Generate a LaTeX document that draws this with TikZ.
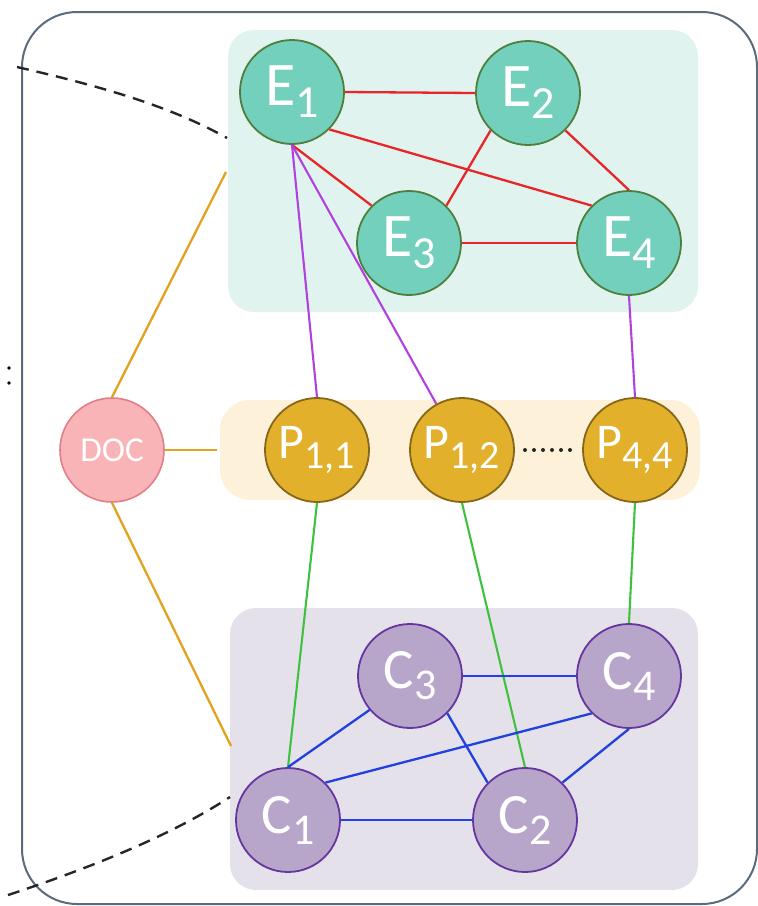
\documentclass[tikz,border=0pt]{standalone}
\usepackage{fontspec}
\setmainfont{Carlito}
\newcommand{\circlab}[5]{{\fontsize{#3}{#3}\selectfont #1}\raisebox{-#5}{\fontsize{#4}{#4}\selectfont #2}}
\definecolor{framecol}{HTML}{5B6B7E}
\definecolor{efill}{HTML}{72D0BC}
\definecolor{edraw}{HTML}{4F7F3C}
\definecolor{ebox}{HTML}{E0F3EE}
\definecolor{pfill}{HTML}{E2B02A}
\definecolor{pdraw}{HTML}{86671A}
\definecolor{pbox}{HTML}{FDF2D9}
\definecolor{cfill}{HTML}{B8A5CA}
\definecolor{cdraw}{HTML}{6536A0}
\definecolor{cbox}{HTML}{E5E1EA}
\definecolor{docfill}{HTML}{F8B4B7}
\definecolor{docdraw}{HTML}{E27E88}
\definecolor{redl}{HTML}{E8262A}
\definecolor{purl}{HTML}{B040E0}
\definecolor{grnl}{HTML}{3EC23E}
\definecolor{blul}{HTML}{2040E0}
\definecolor{orgl}{HTML}{E2A21E}
\begin{document}
\begin{tikzpicture}[x=1pt,y=-1pt,
  vert/.style={circle,minimum size=104pt,inner sep=0pt,line width=1.8pt,text=white},
  enode/.style={vert,fill=efill,draw=edraw},
  pnode/.style={vert,fill=pfill,draw=pdraw},
  cnode/.style={vert,fill=cfill,draw=cdraw},
  docnode/.style={vert,fill=docfill,draw=docdraw,line width=1.6pt},
  region/.style={rounded corners=26pt,draw=none},
  eedge/.style={redl,line width=2.3pt},
  pedge/.style={purl,line width=2.1pt},
  gedge/.style={grnl,line width=2.1pt},
  cedge/.style={blul,line width=2.3pt},
  oedge/.style={orgl,line width=2.3pt},
  arcline/.style={black!85,line width=2.4pt,dash pattern=on 12pt off 8pt}]
\useasboundingbox (0,0) rectangle (758,906);
% outer frame
\draw[framecol,line width=2pt,rounded corners=55pt] (22,12) rectangle (757,904);
% background regions
\fill[region,ebox] (228,30) rectangle (698,312);
\fill[region,pbox,rounded corners=30pt] (220,400) rectangle (700,500);
\fill[region,cbox] (230,608) rectangle (698,890);
% dashed arcs on the left
\draw[arcline] (17,67) .. controls (100,86) and (170,106) .. (227,138);
\draw[arcline] (8,895) .. controls (90,868) and (170,836) .. (230,797);
\fill[black] (9,368) circle (1.8pt) (9,383) circle (1.8pt);
% nodes
\node[enode] (E1) at (292,92) {\circlab{E}{1}{62}{46}{12pt}};
\node[enode] (E2) at (528,93) {\circlab{E}{2}{62}{46}{12pt}};
\node[enode] (E3) at (409,243) {\circlab{E}{3}{62}{46}{12pt}};
\node[enode] (E4) at (629,243) {\circlab{E}{4}{62}{46}{12pt}};
\node[pnode] (P11) at (317,450) {\circlab{P}{1,1}{50}{40}{10pt}};
\node[pnode] (P12) at (462,450) {\circlab{P}{1,2}{50}{40}{10pt}};
\node[pnode] (P44) at (635,450) {\circlab{P}{4,4}{50}{40}{10pt}};
\node[cnode] (C1) at (288,820) {\circlab{C}{1}{57}{44}{11pt}};
\node[cnode] (C2) at (525,820) {\circlab{C}{2}{57}{44}{11pt}};
\node[cnode] (C3) at (410,676) {\circlab{C}{3}{57}{44}{11pt}};
\node[cnode] (C4) at (629,676) {\circlab{C}{4}{57}{44}{11pt}};
\node[docnode] (DOC) at (112,450) {\fontsize{35}{35}\selectfont DOC};
\foreach \k in {0,...,5} \fill[black!85] (525+\k*9,450) circle (2pt);
% anchors on the region borders
\coordinate (eL) at (226,172);
\coordinate (pL) at (217,450);
\coordinate (cL) at (231,746);
% entity graph
\draw[eedge] (E1.east) -- (E2.west);
\draw[eedge] (E1.-45) -- (E4.135);
\draw[eedge] (E1.south) -- (E3.135);
\draw[eedge] (E2.-135) -- (E3.45);
\draw[eedge] (E2.-45) -- (E4.north);
\draw[eedge] (E3.east) -- (E4.west);
% links entity -> pair
\draw[pedge] (E1.south) -- (P11.north);
\draw[pedge] (E1.south) -- (P12);
\draw[pedge] (E4.south) -- (P44.north);
% links pair -> concept
\draw[gedge] (P11.south) -- (C1.north);
\draw[gedge] (P12.south) -- (C2.north);
\draw[gedge] (P44.south) -- (C4.north);
% concept graph
\draw[cedge] (C1.north) -- (C3.-140);
\draw[cedge] (C1.45) -- (C4.-135);
\draw[cedge] (C1.east) -- (C2.west);
\draw[cedge] (C3.east) -- (C4.west);
\draw[cedge] (C3.-45) -- (C2.135);
\draw[cedge] (C2.45) -- (C4.south);
% document links
\draw[oedge] (DOC.north) -- (eL);
\draw[oedge] (DOC.east) -- (pL);
\draw[oedge] (DOC.south) -- (cL);
\end{tikzpicture}
\end{document}
